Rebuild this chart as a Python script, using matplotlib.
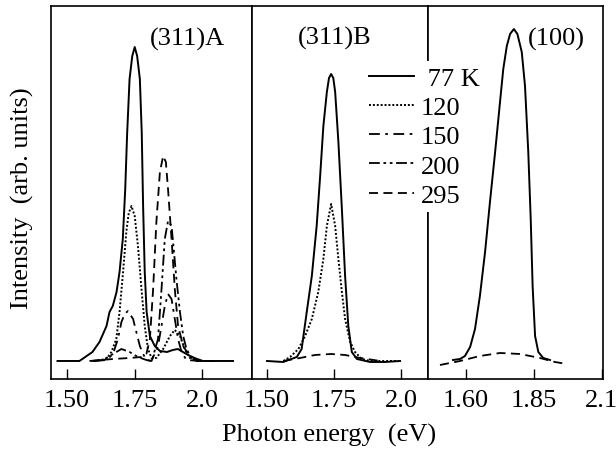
"""
Espectros de PL en funcion de la temperatura para tres orientaciones
"""
import matplotlib
matplotlib.use('Agg')
import matplotlib.pyplot as plt

plt.rcParams['font.family'] = ['Liberation Serif', 'DejaVu Serif']

# --- (311)A ---
a_77_e = [1.465, 1.546, 1.594, 1.620, 1.646, 1.657, 1.669, 1.683, 1.694, 1.706, 1.715,
          1.722, 1.731, 1.741, 1.750, 1.759, 1.769, 1.776, 1.781, 1.787, 1.794, 1.806,
          1.824, 1.843, 1.869, 1.891, 1.909, 1.928, 1.954, 1.980, 2.002, 2.113]
a_77_i = [0, 0, 9, 19, 35, 49, 55, 69, 89, 122, 172,
          227, 282, 305, 314, 305, 282, 228, 155, 89, 49, 25,
          15, 10, 9, 11, 12, 9, 5, 2, 0, 0]

a_120_e = [1.600, 1.646, 1.664, 1.682, 1.694, 1.707, 1.719, 1.728, 1.738, 1.750, 1.762,
           1.775, 1.787, 1.799, 1.812, 1.830, 1.855, 1.880, 1.898, 1.917, 1.935, 1.954,
           1.979, 2.000]
a_120_i = [0, 2, 9, 22, 49, 89, 129, 148, 155, 145, 115,
           72, 35, 12, 3, 3, 12, 25, 31, 25, 12, 3,
           0, 0]

a_150_e = [1.600, 1.646, 1.670, 1.688, 1.701, 1.713, 1.725, 1.744, 1.756, 1.769, 1.781,
           1.793, 1.812, 1.836, 1.849, 1.861, 1.873, 1.886, 1.898, 1.910, 1.923, 1.941,
           1.990]
a_150_i = [0, 1, 7, 22, 39, 47, 50, 42, 29, 15, 7,
           1, 0, 15, 35, 55, 67, 62, 42, 22, 9, 1,
           0]

a_200_e = [1.590, 1.633, 1.670, 1.701, 1.731, 1.762, 1.793, 1.813, 1.836, 1.849, 1.861,
           1.873, 1.886, 1.894, 1.904, 1.917, 1.929, 1.941, 1.960, 1.979, 2.000]
a_200_i = [0, 1, 7, 12, 9, 4, 1, 0, 22, 72, 122,
           140, 135, 112, 82, 49, 25, 12, 3, 0, 0]

a_295_e = [1.583, 1.670, 1.731, 1.775, 1.793, 1.806, 1.818, 1.830, 1.843, 1.855, 1.865,
           1.873, 1.886, 1.898, 1.910, 1.929, 1.947, 1.972, 1.997, 2.046]
a_295_i = [0, 2, 3, 4, 7, 22, 72, 139, 189, 205, 199,
           172, 122, 72, 35, 15, 7, 2, 0, 0]

# --- (311)B ---
b_77_e = [1.500, 1.560, 1.611, 1.629, 1.648, 1.667, 1.685, 1.698, 1.710, 1.723, 1.731,
          1.739, 1.747, 1.754, 1.766, 1.779, 1.791, 1.803, 1.816, 1.835, 1.884, 1.940, 1.996]
b_77_i = [0, -1, 4, 12, 49, 85, 135, 185, 235, 269, 283,
          287, 283, 269, 219, 152, 85, 35, 9, 2, -1, -1, 0]

b_120_e = [1.561, 1.586, 1.617, 1.642, 1.667, 1.691, 1.710, 1.723, 1.739, 1.754, 1.766,
           1.779, 1.791, 1.810, 1.828, 1.853, 1.884, 1.990]
b_120_i = [0, 4, 12, 25, 42, 69, 102, 135, 157, 135, 102,
           69, 42, 19, 9, 2, 0, 0]

b_295_e = [1.560, 1.623, 1.679, 1.739, 1.791, 1.847, 1.922]
b_295_i = [0, 3, 6, 7, 6, 3, 0]

# --- (100) ---
c_77_e = [1.552, 1.578, 1.596, 1.615, 1.633, 1.651, 1.670, 1.688, 1.707, 1.725, 1.737,
          1.750, 1.762, 1.776, 1.789, 1.805, 1.817, 1.829, 1.838, 1.845, 1.854, 1.866,
          1.884, 1.909]
c_77_i = [1, 2, 5, 14, 32, 65, 109, 159, 209, 259, 292,
          315, 327, 332, 327, 309, 275, 209, 142, 75, 25, 9,
          3, 1]

c_295_e = [1.504, 1.578, 1.651, 1.725, 1.799, 1.872, 1.927, 1.971]
c_295_i = [-4, 0, 5, 8, 7, 3, -1, -3]

temp_labels = [' 77 K', '120', '150', '200', '295']
panel_names = ['(311)A', '(311)B', '(100)']
ticks_ab = [1.50, 1.75, 2.0]
ticks_ab_lbl = ['1.50', '1.75', '2.0']
ticks_c = [1.60, 1.85, 2.10]
ticks_c_lbl = ['1.60', '1.85', '2.1']

styles = {
    '77': dict(ls='-', lw=1.4),
    '120': dict(ls=(0, (1, 1)), lw=1.4),
    '150': dict(ls=(0, (6, 3, 1.5, 3)), lw=1.3),
    '200': dict(ls=(0, (6, 2, 1.5, 2, 1.5, 2)), lw=1.3),
    '295': dict(ls=(0, (5, 3)), lw=1.3),
}

fig = plt.figure(figsize=(6.16, 4.56), dpi=100)
gs = fig.add_gridspec(1, 3, width_ratios=[201, 176, 175], wspace=0,
                      left=0.0828, right=0.9789, top=0.9846, bottom=0.1667)
ax1 = fig.add_subplot(gs[0])
ax2 = fig.add_subplot(gs[1])
ax3 = fig.add_subplot(gs[2])

h77, = ax1.plot(a_77_e, a_77_i, color='k', **styles['77'])
h120, = ax1.plot(a_120_e, a_120_i, color='k', **styles['120'])
h150, = ax1.plot(a_150_e, a_150_i, color='k', **styles['150'])
h200, = ax1.plot(a_200_e, a_200_i, color='k', **styles['200'])
h295, = ax1.plot(a_295_e, a_295_i, color='k', **styles['295'])

ax2.plot(b_77_e, b_77_i, color='k', **styles['77'])
ax2.plot(b_120_e, b_120_i, color='k', **styles['120'])
ax2.plot(b_295_e, b_295_i, color='k', **styles['295'])

ax3.plot(c_77_e, c_77_i, color='k', **styles['77'])
ax3.plot(c_295_e, c_295_i, color='k', **styles['295'])

ax1.set_xlim(1.441, 2.183)
ax2.set_xlim(1.444, 2.100)
ax3.set_xlim(1.460, 2.104)

for ax in [ax1, ax2, ax3]:
    ax.set_ylim(-18, 355)
    ax.set_yticks([])
    ax.tick_params(axis='x', direction='in', length=7, width=1, pad=7, labelsize=19)
    for s in ax.spines.values():
        s.set_linewidth(1.2)

ax1.set_xticks(ticks_ab, ticks_ab_lbl)
ax2.set_xticks(ticks_ab, ticks_ab_lbl)
ax3.set_xticks(ticks_c, ticks_c_lbl)

# etiquetas de cada panel
ax1.text(0.4925, 0.912, panel_names[0], transform=ax1.transAxes, fontsize=19, va='center')
ax2.text(0.261, 0.915, panel_names[1], transform=ax2.transAxes, fontsize=19, va='center')
ax3.text(0.571, 0.912, panel_names[2], transform=ax3.transAxes, fontsize=19, va='center')

fig.legend([h77, h120, h150, h200, h295], temp_labels,
           loc='upper left', bbox_to_anchor=(0.590, 0.864),
           fontsize=19, frameon=True, facecolor='white', edgecolor='none',
           framealpha=1, fancybox=False, handlelength=1.7, handletextpad=0.27,
           labelspacing=0.22, borderpad=0.2, borderaxespad=0)

fig.text(0.037, 0.566, 'Intensity  (arb. units)', rotation=90, fontsize=19,
         ha='center', va='center')
fig.text(0.535, 0.044, 'Photon energy  (eV)', fontsize=19, ha='center', va='center')

plt.savefig('out.png', dpi=100)
